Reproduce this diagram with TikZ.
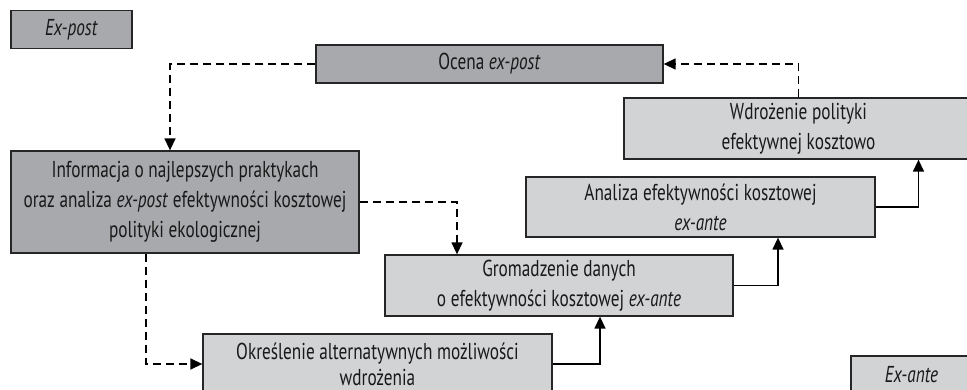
\documentclass[tikz,border=0pt]{standalone}
\usepackage{fontspec}
\setmainfont[FakeStretch=0.75]{PT Sans}
\usetikzlibrary{arrows.meta,calc}
\definecolor{darkbox}{HTML}{A7A9AC}
\definecolor{lightbox}{HTML}{D1D3D4}
\begin{document}
\begin{tikzpicture}[x=1pt,y=-1pt,
  box/.style={draw=black!85,line width=1.3pt,rectangle,inner sep=0pt,align=center,
    font=\fontsize{23}{30}\selectfont,text=black!90},
  dbox/.style={box,fill=darkbox},
  lbox/.style={box,fill=lightbox},
  dconn/.style={line width=1.4pt,dash pattern=on 8pt off 5pt,-{Triangle[length=12pt,width=11pt]}},
  sconn/.style={line width=1.4pt,-{Triangle[length=12pt,width=11pt]}}]
\useasboundingbox (0,0) rectangle (967,390);
\clip (0,0) rectangle (967,390);
\node[dbox,minimum width=121pt,minimum height=38pt] (expost) at (71.5,29.5) {\textit{Ex-post}};
\node[dbox,minimum width=347pt,minimum height=38pt] (ocena) at (489.5,64) {Ocena \textit{ex-post}};
\node[lbox,minimum width=349pt,minimum height=61pt] (wdroz) at (798.5,128.5) {Wdrożenie polityki\\efektywnej kosztowo};
\node[dbox,minimum width=348pt,minimum height=102pt] (info) at (185,202) {Informacja o najlepszych praktykach\\oraz analiza \textit{ex-post} efektywności kosztowej\\polityki ekologicznej};
\node[lbox,minimum width=349pt,minimum height=60pt] (analiza) at (700.5,207) {Analiza efektywności kosztowej\\\textit{ex-ante}};
\node[lbox,minimum width=348pt,minimum height=61pt] (groma) at (559,285.5) {Gromadzenie danych\\o efektywności kosztowej \textit{ex-ante}};
\node[lbox,minimum width=349pt,minimum height=60pt,font=\fontsize{23}{26}\selectfont] (okresl) at (377.5,364) {Określenie alternatywnych możliwości\\wdrożenia};
\node[lbox,minimum width=121pt,minimum height=38pt] (exante) at (911.5,375) {\textit{Ex-ante}};
\coordinate (c1) at ($(info.north)+(-15,0)$);
\coordinate (c2) at ($(groma.north)+(-102,0)$);
\coordinate (c3) at ($(info.south)+(-39,0)$);
\coordinate (c4) at ($(groma.south)+(41,0)$);
\coordinate (c5) at ($(analiza.south)+(77.5,0)$);
\coordinate (c6) at ($(wdroz.south)+(120,0)$);
\draw[dconn] (ocena.west) -| (c1);
\draw[dconn] (wdroz.north) |- (ocena.east);
\draw[dconn] (info.east) -| (c2);
\draw[dconn] (c3) |- (okresl.west);
\draw[sconn] (okresl.east) -| (c4);
\draw[sconn] (groma.east) -| (c5);
\draw[sconn] (analiza.east) -| (c6);
\end{tikzpicture}
\end{document}
